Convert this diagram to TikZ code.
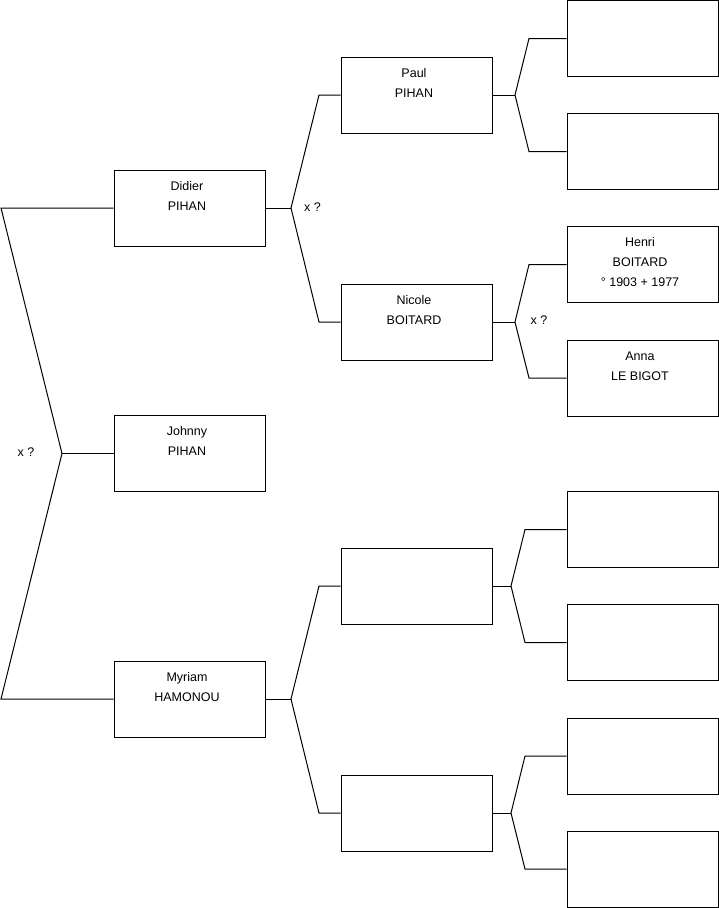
\documentclass[tikz,border=0pt]{standalone}
\usepackage{fontspec}
\setmainfont{Liberation Sans}
\begin{document}
\begin{tikzpicture}[x=1pt,y=-1pt,
  person/.style={draw=black,line width=1pt,minimum width=151pt,minimum height=76pt,inner sep=0pt},
  pname/.style={anchor=north,inner sep=0pt,align=center,font=\fontsize{12.5}{20}\selectfont},
  conn/.style={draw=black,line width=1pt},
  marr/.style={inner sep=0pt,font=\fontsize{12.5}{14}\selectfont}]
\useasboundingbox (0,0) rectangle (719,908);

% generation 1
\node[person] (didier) at (189.5,208) {};
\node[person] (johnny) at (189.5,453.5) {};
\node[person] (myriam) at (189.5,699) {};
% generation 2
\node[person] (paul) at (416.5,95) {};
\node[person] (nicole) at (416.5,322) {};
\node[person] (mf) at (416.5,586) {};
\node[person] (mm) at (416.5,813) {};
% generation 3
\node[person] (pf) at (642.5,38.5) {};
\node[person] (pm) at (642.5,151.5) {};
\node[person] (henri) at (642.5,264.5) {};
\node[person] (anna) at (642.5,378) {};
\node[person] (mff) at (642.5,529.5) {};
\node[person] (mfm) at (642.5,642.5) {};
\node[person] (mmf) at (642.5,756) {};
\node[person] (mmm) at (642.5,869) {};

% names
\node[pname] (tdidier) at ([xshift=-2.5pt,yshift=-11.7pt]didier.north) {Didier\\PIHAN};
\node[pname] (tjohnny) at ([xshift=-2.5pt,yshift=-11.7pt]johnny.north) {Johnny\\PIHAN};
\node[pname] (tmyriam) at ([xshift=-2.5pt,yshift=-11.7pt]myriam.north) {Myriam\\HAMONOU};
\node[pname] (tpaul) at ([xshift=-2.5pt,yshift=-11.7pt]paul.north) {Paul\\PIHAN};
\node[pname] (tnicole) at ([xshift=-2.5pt,yshift=-11.7pt]nicole.north) {Nicole\\BOITARD};
\node[pname] (thenri) at ([xshift=-2.5pt,yshift=-11.7pt]henri.north) {Henri\\BOITARD\\° 1903 + 1977};
\node[pname] (tanna) at ([xshift=-2.5pt,yshift=-11.7pt]anna.north) {Anna\\LE BIGOT};

% marriage labels
\node[marr] (x0) at (26,452.5) {x ?};
\node[marr] (x1) at (312.5,207.5) {x ?};
\node[marr] (x2) at (539,320.5) {x ?};

% junction coordinates
\coordinate (r1) at (1,208);
\coordinate (r2) at (1,699);
\coordinate (j0) at (62,453.5);

\coordinate (jd) at (291,208);
\coordinate (cpaul) at (319,95);
\coordinate (cnicole) at (319,322);

\coordinate (jm) at (291,699);
\coordinate (cmf) at (319,586);
\coordinate (cmm) at (319,813);

\coordinate (jp) at (515,95);
\coordinate (cpf) at (529,38.5);
\coordinate (cpm) at (529,151.5);

\coordinate (jn) at (515,322);
\coordinate (chenri) at (529,264.5);
\coordinate (canna) at (529,378);

\coordinate (jmf) at (511,586);
\coordinate (cmff) at (525,529.5);
\coordinate (cmfm) at (525,642.5);

\coordinate (jmm) at (511,813);
\coordinate (cmmf) at (525,756);
\coordinate (cmmm) at (525,869);

% connectors
\draw[conn] (didier.west) -- (r1) -- (j0) -- (r2) -- (myriam.west);
\draw[conn] (j0) -- (johnny.west);

\draw[conn] (didier.east) -- (jd);
\draw[conn] (paul.west) -- (cpaul) -- (jd) -- (cnicole) -- (nicole.west);

\draw[conn] (myriam.east) -- (jm);
\draw[conn] (mf.west) -- (cmf) -- (jm) -- (cmm) -- (mm.west);

\draw[conn] (paul.east) -- (jp);
\draw[conn] (pf.west) -- (cpf) -- (jp) -- (cpm) -- (pm.west);

\draw[conn] (nicole.east) -- (jn);
\draw[conn] (henri.west) -- (chenri) -- (jn) -- (canna) -- (anna.west);

\draw[conn] (mf.east) -- (jmf);
\draw[conn] (mff.west) -- (cmff) -- (jmf) -- (cmfm) -- (mfm.west);

\draw[conn] (mm.east) -- (jmm);
\draw[conn] (mmf.west) -- (cmmf) -- (jmm) -- (cmmm) -- (mmm.west);
\end{tikzpicture}
\end{document}
